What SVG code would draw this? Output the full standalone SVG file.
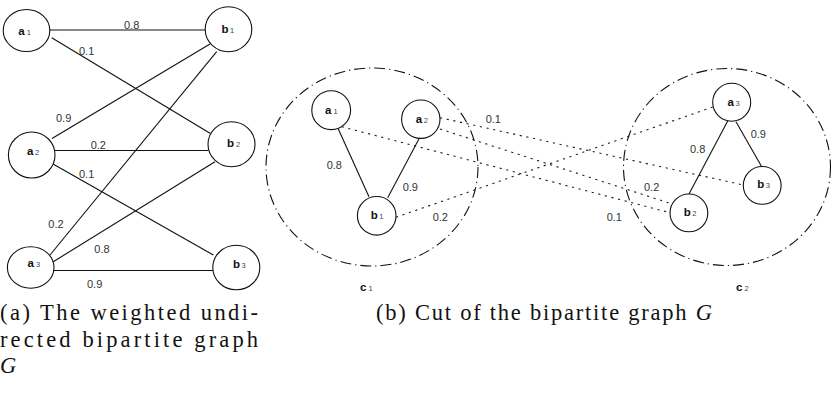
<svg xmlns="http://www.w3.org/2000/svg" width="832" height="393" viewBox="0 0 832 393">
  <style>
    .edge { stroke: #111; stroke-width: 1.1; fill: none; }
    .cut { stroke: #222; stroke-width: 1.1; fill: none; stroke-dasharray: 2.2 4.6; }
    .node { fill: #fff; stroke: #111; stroke-width: 1.1; }
    .cluster { fill: none; stroke: #111; stroke-width: 1.1; stroke-dasharray: 11 4 1.2 4; }
    .w { font-family: "Liberation Sans", Arial, sans-serif; font-size: 11px; fill: #333; }
    .lbl { font-family: "Liberation Sans", Arial, sans-serif; font-size: 11.5px; font-weight: bold; fill: #111; }
    .sub { font-size: 7.5px; font-weight: normal; fill: #444; }
    .cap { font-family: "Liberation Serif", "Times New Roman", serif; font-size: 22.5px; fill: #111; }
  </style>

  <!-- (a) weighted bipartite graph: edges -->
  <g id="edges-a">
    <path class="edge" d="M50,30 L205,30"/>
    <path class="edge" d="M51.7,37.7 L210,133.3"/>
    <path class="edge" d="M52,138.5 L210,44"/>
    <path class="edge" d="M55,150.5 L208.5,150.5"/>
    <path class="edge" d="M51.7,163.3 L213.3,255"/>
    <path class="edge" d="M50,255 L216.7,51.7"/>
    <path class="edge" d="M53.3,261.7 L215,161.7"/>
    <path class="edge" d="M54,270.5 L213.3,270.5"/>
  </g>
  <g id="weights-a">
    <text class="w" x="124" y="28.5">0.8</text>
    <text class="w" x="79" y="54.5">0.1</text>
    <text class="w" x="56" y="122">0.9</text>
    <text class="w" x="90.7" y="149.3">0.2</text>
    <text class="w" x="79" y="177.5">0.1</text>
    <text class="w" x="48.3" y="228">0.2</text>
    <text class="w" x="94.3" y="252.5">0.8</text>
    <text class="w" x="87" y="288">0.9</text>
  </g>

  <!-- (a) nodes -->
  <g id="a-a1">
    <ellipse class="node" cx="26.5" cy="30.5" rx="23.3" ry="21"/>
    <text class="lbl" x="18.3" y="34.5">a<tspan class="sub" dx="2">1</tspan></text>
  </g>
  <g id="a-b1">
    <ellipse class="node" cx="228.5" cy="29.2" rx="23.3" ry="22.5"/>
    <text class="lbl" x="221.5" y="32.7">b<tspan class="sub" dx="1.5">1</tspan></text>
  </g>
  <g id="a-a2">
    <ellipse class="node" cx="31.7" cy="155" rx="23.3" ry="23"/>
    <text class="lbl" x="27" y="155">a<tspan class="sub" dx="1.5">2</tspan></text>
  </g>
  <g id="a-b2">
    <ellipse class="node" cx="231.5" cy="144.2" rx="23.5" ry="22.5"/>
    <text class="lbl" x="227" y="147.3">b<tspan class="sub" dx="2">2</tspan></text>
  </g>
  <g id="a-a3">
    <ellipse class="node" cx="30.7" cy="267.5" rx="23.3" ry="20.8"/>
    <text class="lbl" x="27.5" y="266.7">a<tspan class="sub" dx="2">3</tspan></text>
  </g>
  <g id="a-b3">
    <ellipse class="node" cx="236.3" cy="267.5" rx="23.5" ry="22.3"/>
    <text class="lbl" x="233" y="267.7">b<tspan class="sub" dx="1.5">3</tspan></text>
  </g>

  <!-- (b) clusters -->
  <g id="cluster-c1">
    <ellipse class="cluster" cx="372" cy="167" rx="106" ry="99"/>
    <text class="lbl" x="360" y="291">c<tspan class="sub" dx="2">1</tspan></text>
  </g>
  <g id="cluster-c2">
    <ellipse class="cluster" cx="727" cy="167" rx="103.5" ry="98.5"/>
    <text class="lbl" x="736" y="291">c<tspan class="sub" dx="2">2</tspan></text>
  </g>

  <!-- (b) intra-cluster edges and cut edges -->
  <g id="edges-b">
    <path class="edge" d="M338.3,129 L369,196.7"/>
    <path class="edge" d="M419.3,138.3 L387.7,197.7"/>
    <path class="edge" d="M727.7,121 L689,194"/>
    <path class="edge" d="M736,121.7 L761.7,166.7"/>
    <path class="cut" d="M341.7,126.7 L670,212.7"/>
    <path class="cut" d="M440,129 L670,203.3"/>
    <path class="cut" d="M440,117.7 L743.3,185"/>
    <path class="cut" d="M396,217.3 L712.7,107"/>
  </g>
  <g id="weights-b">
    <text class="w" x="326.7" y="169">0.8</text>
    <text class="w" x="402.7" y="190.7">0.9</text>
    <text class="w" x="432.7" y="221">0.2</text>
    <text class="w" x="485.7" y="123">0.1</text>
    <text class="w" x="644" y="190.7">0.2</text>
    <text class="w" x="606.7" y="221">0.1</text>
    <text class="w" x="690" y="153">0.8</text>
    <text class="w" x="750.7" y="138">0.9</text>
  </g>

  <!-- (b) nodes -->
  <g id="b-a1">
    <circle class="node" cx="331.2" cy="110.2" r="19.4"/>
    <text class="lbl" x="325" y="114.3">a<tspan class="sub" dx="2">1</tspan></text>
  </g>
  <g id="b-a2">
    <circle class="node" cx="420.8" cy="119.2" r="19.2"/>
    <text class="lbl" x="415.8" y="122.7">a<tspan class="sub" dx="1.5">2</tspan></text>
  </g>
  <g id="b-b1">
    <circle class="node" cx="376.7" cy="215.8" r="19.3"/>
    <text class="lbl" x="370.8" y="219">b<tspan class="sub" dx="1.5">1</tspan></text>
  </g>
  <g id="b-a3">
    <circle class="node" cx="731.7" cy="102.2" r="19"/>
    <text class="lbl" x="727.5" y="106">a<tspan class="sub" dx="1.5">3</tspan></text>
  </g>
  <g id="b-b3">
    <circle class="node" cx="762.2" cy="185.4" r="18.9"/>
    <text class="lbl" x="757.2" y="188.3">b<tspan class="sub" dx="1.5">3</tspan></text>
  </g>
  <g id="b-b2">
    <circle class="node" cx="688.9" cy="212.9" r="18.9"/>
    <text class="lbl" x="683.8" y="216">b<tspan class="sub" dx="1.5">2</tspan></text>
  </g>

  <!-- captions -->
  <g id="captions">
    <text class="cap" x="0" y="320" textLength="258" lengthAdjust="spacing">(a) The weighted undi-</text>
    <text class="cap" x="0" y="346.5" textLength="258" lengthAdjust="spacing">rected bipartite graph</text>
    <text class="cap" x="0" y="373" font-style="italic">G</text>
    <text class="cap" x="376" y="320" textLength="336" lengthAdjust="spacing">(b) Cut of the bipartite graph <tspan font-style="italic">G</tspan></text>
  </g>
</svg>
